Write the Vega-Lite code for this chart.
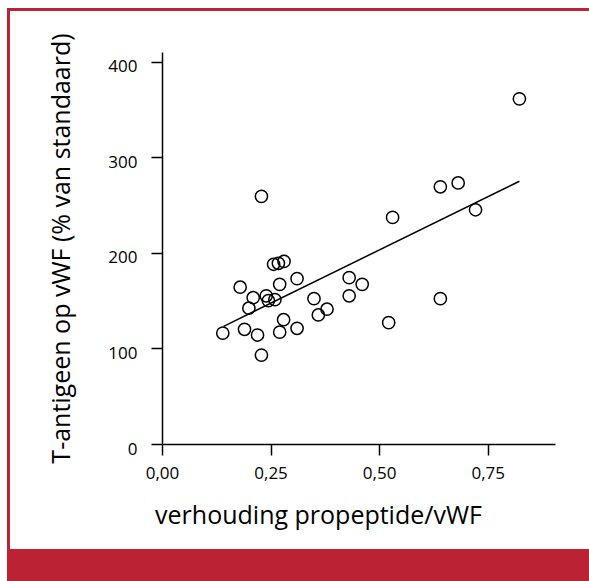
{
  "$schema": "https://vega.github.io/schema/vega-lite/v6.json",
  "padding": {"left": 7, "top": 8, "right": 0, "bottom": 0},
  "background": "white",
  "spacing": 0,
  "config": {"view": {"stroke": null}, "font": "Open Sans"},
  "datasets": {
    "pts": [
      {"p": 0.140, "t": 116}, {"p": 0.180, "t": 164}, {"p": 0.190, "t": 120}, {"p": 0.200, "t": 142},
      {"p": 0.210, "t": 153}, {"p": 0.220, "t": 114}, {"p": 0.229, "t": 259}, {"p": 0.229, "t": 93},
      {"p": 0.240, "t": 155}, {"p": 0.245, "t": 150}, {"p": 0.260, "t": 151}, {"p": 0.257, "t": 188},
      {"p": 0.268, "t": 189}, {"p": 0.281, "t": 191}, {"p": 0.271, "t": 167}, {"p": 0.271, "t": 117},
      {"p": 0.280, "t": 130}, {"p": 0.311, "t": 173}, {"p": 0.311, "t": 121}, {"p": 0.350, "t": 152},
      {"p": 0.360, "t": 135}, {"p": 0.380, "t": 141}, {"p": 0.431, "t": 174}, {"p": 0.431, "t": 155},
      {"p": 0.461, "t": 167}, {"p": 0.522, "t": 127}, {"p": 0.531, "t": 237}, {"p": 0.641, "t": 269},
      {"p": 0.641, "t": 152}, {"p": 0.682, "t": 273}, {"p": 0.722, "t": 245}, {"p": 0.823, "t": 361}
    ],
    "fit": [{"p": 0.142, "t": 123.1}, {"p": 0.823, "t": 274.8}],
    "none": []
  },
  "vconcat": [
    {"width": 582, "height": 3, "data": {"name": "none"}, "mark": "point", "encoding": {}, "view": {"fill": "#BB2233", "stroke": null}},
    {
      "hconcat": [
        {"width": 3, "height": 538, "data": {"name": "none"}, "mark": "point", "encoding": {}, "view": {"fill": "#BB2233", "stroke": null}},
        {
          "vconcat": [
            {"width": 1, "height": 21, "data": {"name": "none"}, "mark": "point", "encoding": {}},
            {
              "width": 393,
              "height": 392,
              "encoding": {
                "x": {"field": "p", "type": "quantitative",
                  "scale": {"domain": [0, 0.905], "nice": false, "zero": false},
                  "axis": {"title": "verhouding propeptide/vWF", "values": [0, 0.25, 0.5, 0.75],
                    "labelExpr": "replace(format(datum.value, '.2f'), '.', ',')",
                    "grid": false, "tickSize": 11, "tickWidth": 1.5, "tickColor": "black",
                    "domainColor": "black", "domainWidth": 1.5, "labelFontSize": 17, "labelColor": "black",
                    "labelPadding": 10, "labelFlush": false, "labelOverlap": false,
                    "titleFontSize": 25, "titleFontWeight": "normal", "titleColor": "black",
                    "titleX": 156, "titleY": 79, "titleAlign": "center", "titleBaseline": "alphabetic"}},
                "y": {"field": "t", "type": "quantitative",
                  "scale": {"domain": [0, 410], "nice": false},
                  "axis": {"title": "T-antigeen op vWF (% van standaard)", "values": [0, 100, 200, 300, 400],
                    "format": "d", "grid": false, "tickSize": 11, "tickWidth": 1.5, "tickColor": "black",
                    "domainColor": "black", "domainWidth": 1.5, "labelFontSize": 17, "labelColor": "black",
                    "labelPadding": 14, "labelOffset": 5, "labelFlush": false, "labelOverlap": false,
                    "titleFontSize": 25, "titleFontWeight": "normal", "titleColor": "black",
                    "titleX": -93, "titleY": 196, "titleAngle": 270, "titleAlign": "center", "titleBaseline": "alphabetic"}}
              },
              "layer": [
                {"data": {"name": "pts"}, "mark": {"type": "point", "shape": "circle", "filled": false, "size": 150, "strokeWidth": 1.5, "color": "black", "opacity": 1}},
                {"data": {"name": "fit"}, "mark": {"type": "line", "color": "black", "strokeWidth": 1.5}}
              ]
            }
          ],
          "spacing": 0
        }
      ],
      "spacing": 38
    },
    {"width": 582, "height": 32, "data": {"name": "none"}, "mark": "point", "encoding": {}, "view": {"fill": "#BB2233", "stroke": null}}
  ]
}
